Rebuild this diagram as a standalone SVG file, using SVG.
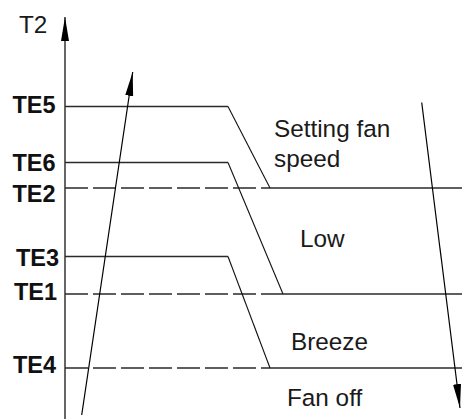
<svg xmlns="http://www.w3.org/2000/svg" width="462" height="419" viewBox="0 0 462 419">
  <style>
    .lbl { font-family: "Liberation Sans", Arial, sans-serif; font-size: 24.3px; fill: #1a1a1a; }
    .te { font-family: "Liberation Sans", Arial, sans-serif; font-size: 23.5px; font-weight: bold; fill: #111; }
    .lvl { stroke: #2a2a2a; stroke-width: 1.3; fill: none; }
    .dash { stroke: #2a2a2a; stroke-width: 1.3; fill: none; stroke-dasharray: 23 5; }
    .ramp { stroke: #111; stroke-width: 1.1; fill: none; }
    .arr { stroke: #000; stroke-width: 1.2; fill: none; }
  </style>
  <defs>
    <marker id="head" markerUnits="userSpaceOnUse" markerWidth="25" markerHeight="9" refX="24" refY="4.5" orient="auto">
      <path d="M0,0.5 L24,4.5 L0,8.5 z" fill="#000"/>
    </marker>
  </defs>
  <rect width="462" height="419" fill="#fff"/>

  <!-- vertical T2 axis -->
  <g id="axis">
    <line class="arr" x1="65" y1="419" x2="65" y2="17" marker-end="url(#head)"/>
    <text class="lbl" x="19" y="33">T2</text>
  </g>

  <!-- threshold labels -->
  <g id="te5"><text class="te" x="12.5" y="113">TE5</text></g>
  <g id="te6"><text class="te" x="12.5" y="171">TE6</text></g>
  <g id="te2"><text class="te" x="12.5" y="202">TE2</text></g>
  <g id="te3"><text class="te" x="16" y="266">TE3</text></g>
  <g id="te1"><text class="te" x="14" y="300">TE1</text></g>
  <g id="te4"><text class="te" x="13" y="373">TE4</text></g>

  <!-- zone labels -->
  <g id="zone-setting"><text class="lbl" x="274" y="137">Setting fan</text><text class="lbl" x="274" y="167">speed</text></g>
  <g id="zone-low"><text class="lbl" x="300" y="247">Low</text></g>
  <g id="zone-breeze"><text class="lbl" x="291" y="350">Breeze</text></g>
  <g id="zone-off"><text class="lbl" x="287" y="406">Fan off</text></g>

  <g id="connectors">
    <!-- dashed lower thresholds -->
    <line class="dash" x1="65" y1="188" x2="270" y2="188"/>
    <line class="dash" x1="65" y1="294" x2="283" y2="294"/>
    <line class="dash" x1="65" y1="368" x2="270" y2="368"/>
    <!-- step transitions -->
    <polyline class="lvl" points="65,106.5 228,106.5"/>
    <polyline class="ramp" points="228,106.5 270,188"/>
    <polyline class="lvl" points="270,188 462,188"/>
    <polyline class="lvl" points="65,162.5 228,162.5"/>
    <polyline class="ramp" points="228,162.5 283,294"/>
    <polyline class="lvl" points="283,294 462,294"/>
    <polyline class="lvl" points="65,256.5 228,256.5"/>
    <polyline class="ramp" points="228,256.5 270,368"/>
    <polyline class="lvl" points="270,368 462,368"/>
    <!-- rising and falling temperature arrows -->
    <line class="arr" x1="81.7" y1="415" x2="132.7" y2="72" marker-end="url(#head)"/>
    <line class="arr" x1="421.7" y1="102.5" x2="460" y2="408" marker-end="url(#head)"/>
  </g>
</svg>
